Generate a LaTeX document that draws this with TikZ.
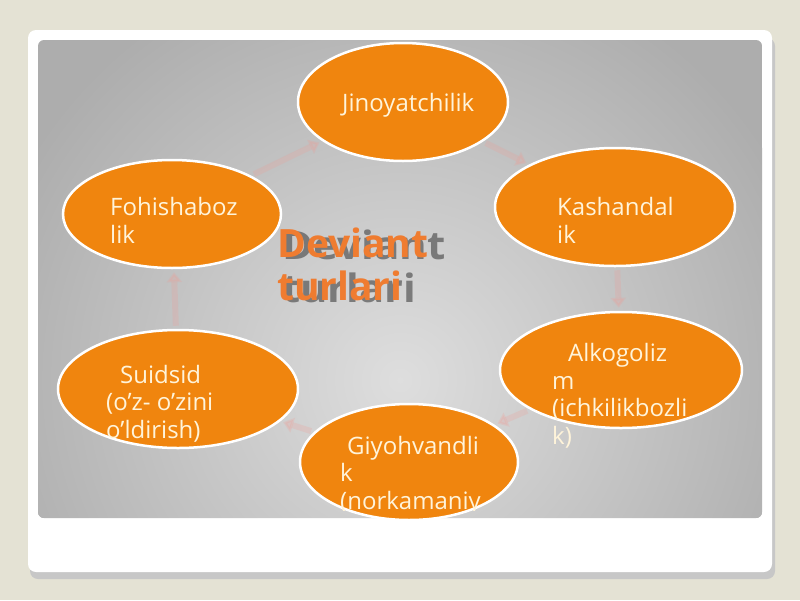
\documentclass[tikz,border=0pt]{standalone}
\usepackage{fontspec}
\usepackage{graphicx}
\newfontfamily\osans{Open Sans}
\usetikzlibrary{shapes.geometric,arrows.meta}
\definecolor{bg}{HTML}{E4E2D4}
\definecolor{org}{HTML}{F0850E}
\definecolor{txt}{HTML}{FFF4DA}
\definecolor{ttl}{HTML}{EF7C30}
\definecolor{shd}{HTML}{4C4C4C}
\definecolor{pinkarr}{HTML}{F29A92}
\begin{document}
\begin{tikzpicture}[x=1pt,y=-1pt,
 blob/.style={ellipse, fill=org, draw=white, line width=2.5pt, inner sep=0pt},
 lbl/.style={anchor=base west, inner sep=0pt, text=txt, font=\osans\fontsize{24}{27.5}\selectfont, align=left},
 ttlstyle/.style={anchor=base west, inner sep=0pt, font=\osans\bfseries\fontsize{39}{43}\selectfont, align=left},
 cyc/.style={draw=pinkarr, opacity=0.22, line width=6pt, shorten <=3pt, shorten >=3pt, -{Triangle[length=10pt,width=15pt]}}]
\useasboundingbox (0,0) rectangle (800,600);
\fill[bg] (0,0) rectangle (800,600);
% card
\fill[black!22, rounded corners=8pt] (30,38) rectangle (775,579);
\fill[white, rounded corners=8pt] (28,30) rectangle (772,572);
\begin{scope}
 \clip[rounded corners=6pt] (38,40) rectangle (762,518);
 \fill[gray!64] (38,40) rectangle (762,518);
 \shade[inner color=gray!26, outer color=gray!64] (400,380) circle (430);
\end{scope}
% ellipses
\node[blob, minimum width=210pt, minimum height=118pt] (jin) at (403,102) {};
\node[blob, minimum width=240pt, minimum height=118pt] (kash) at (615,207) {};
\node[blob, minimum width=218pt, minimum height=108pt] (foh) at (172,214) {};
\node[blob, minimum width=240pt, minimum height=118pt] (sui) at (178,389) {};
\node[blob, minimum width=242pt, minimum height=116pt] (alk) at (621,370) {};
\node[blob, minimum width=218pt, minimum height=116pt] (giy) at (409,462) {};
% faint cycle arrows
\draw[cyc] (jin) -- (kash);
\draw[cyc] (kash) -- (alk);
\draw[cyc] (alk) -- (giy);
\draw[cyc] (giy) -- (sui);
\draw[cyc] (sui) -- (foh);
\draw[cyc] (foh) -- (jin);
% labels (base = last line's baseline)
\node[lbl] (tjin) at (342,111) {Jinoyatchilik};
\node[lbl] (tfoh) at (110,243) {Fohishaboz\\lik};
\node[lbl] (tkash) at (557,243) {Kashandal\\ik};
\node[lbl] (tsui) at (106,438) {\hspace{14pt}Suidsid\\(o’z- o’zini\\o’ldirish)};
\node[lbl] (talk) at (552,444) {\hspace{16pt}Alkogoliz\\m\\(ichkilikbozli\\k)};
\begin{scope}
 \clip (300,400) rectangle (520,510);
 \node[lbl] (tgiy) at (340,509) {\hspace{7pt}Giyohvandli\\k\\(norkamaniy};
\end{scope}
% title
\node[ttlstyle, text=shd, opacity=0.65] (tsh) at (282,302) {\scalebox{1.08}[1]{Deviant}\\\scalebox{1.07}[1]{turlari}};
\node[ttlstyle, text=ttl] (ttl) at (277,300) {Deviant\\turlari};
\end{tikzpicture}
\end{document}
